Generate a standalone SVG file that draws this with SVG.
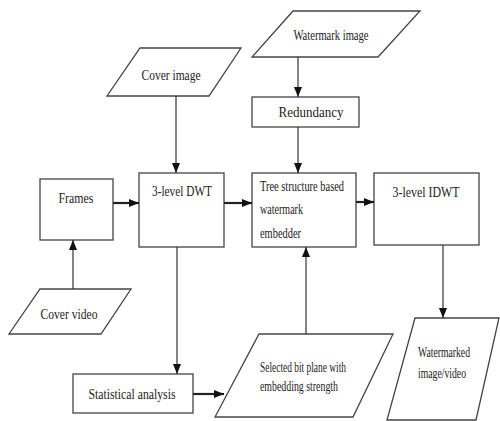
<svg xmlns="http://www.w3.org/2000/svg" width="500" height="421" viewBox="0 0 500 421">
<defs>
<style>
.shape{fill:#fff;stroke:#444;stroke-width:1.3}
.t{font-family:"Liberation Serif","Times New Roman",serif;font-size:15px;fill:#222}
.c{text-anchor:middle}
.ln{stroke:#333;stroke-width:1.2;fill:none}
.th{stroke:#222;stroke-width:2.2;fill:none}
</style>
<marker id="ah" markerUnits="userSpaceOnUse" markerWidth="10" markerHeight="10" viewBox="0 0 10 10" refX="10" refY="5" orient="auto">
<path d="M0,1 L10,5 L0,9 Z" fill="#111"/>
</marker>
</defs>
<rect width="500" height="421" fill="#fff"/>
<g id="cover-image"><polygon class="shape" points="140,48 241,48 209,96 107,96"/><text class="t c" x="171" y="80" textLength="59" lengthAdjust="spacingAndGlyphs">Cover image</text></g>
<g id="watermark-image"><polygon class="shape" points="293,11 420,11 378,57 252,57"/><text class="t c" x="331" y="40" textLength="75" lengthAdjust="spacingAndGlyphs">Watermark image</text></g>
<g id="redundancy"><rect class="shape" x="252" y="97" width="107" height="30"/><text class="t c" x="311" y="117" textLength="65" lengthAdjust="spacingAndGlyphs">Redundancy</text></g>
<g id="frames"><rect class="shape" x="40" y="179" width="73" height="61"/><text class="t c" x="76" y="203" textLength="35" lengthAdjust="spacingAndGlyphs">Frames</text></g>
<g id="dwt"><rect class="shape" x="139" y="173" width="85" height="74"/><text class="t c" x="182" y="196" textLength="60" lengthAdjust="spacingAndGlyphs">3-level DWT</text></g>
<g id="embedder"><rect class="shape" x="252" y="173" width="104" height="74"/><text class="t" x="260" y="191" textLength="84" lengthAdjust="spacingAndGlyphs">Tree structure based</text><text class="t" x="260" y="214" textLength="43" lengthAdjust="spacingAndGlyphs">watermark</text><text class="t" x="260" y="238" textLength="41" lengthAdjust="spacingAndGlyphs">embedder</text></g>
<g id="idwt"><rect class="shape" x="374" y="173" width="105" height="72"/><text class="t c" x="426" y="197" textLength="67" lengthAdjust="spacingAndGlyphs">3-level IDWT</text></g>
<g id="cover-video"><polygon class="shape" points="40,289 131,289 101,334 9,334"/><text class="t c" x="69" y="319" textLength="57" lengthAdjust="spacingAndGlyphs">Cover video</text></g>
<g id="statistical"><rect class="shape" x="73" y="374" width="120" height="39"/><text class="t c" x="132" y="399" textLength="87" lengthAdjust="spacingAndGlyphs">Statistical analysis</text></g>
<g id="selected"><polygon class="shape" points="259,334 393,334 353,417 215,417"/><text class="t" x="260" y="372" textLength="86" lengthAdjust="spacingAndGlyphs">Selected bit plane with</text><text class="t" x="260" y="391" textLength="78" lengthAdjust="spacingAndGlyphs">embedding strength</text></g>
<g id="watermarked"><polygon class="shape" points="415,318 499,318 476,420 387,420"/><text class="t" x="418" y="357" textLength="52" lengthAdjust="spacingAndGlyphs">Watermarked</text><text class="t" x="418" y="378" textLength="48" lengthAdjust="spacingAndGlyphs">image/video</text></g>
<g id="connectors">
<line class="ln" x1="176" y1="96" x2="176" y2="173" marker-end="url(#ah)"/>
<line class="ln" x1="298" y1="57" x2="298" y2="97" marker-end="url(#ah)"/>
<line class="ln" x1="298" y1="127" x2="298" y2="173" marker-end="url(#ah)"/>
<line class="th" x1="113" y1="203" x2="139" y2="203" marker-end="url(#ah)"/>
<line class="th" x1="224" y1="203" x2="252" y2="203" marker-end="url(#ah)"/>
<line class="th" x1="356" y1="202" x2="374" y2="202" marker-end="url(#ah)"/>
<line class="ln" x1="73" y1="289" x2="73" y2="240" marker-end="url(#ah)"/>
<line class="ln" x1="177" y1="247" x2="177" y2="374" marker-end="url(#ah)"/>
<line class="th" x1="193" y1="394" x2="224" y2="394" marker-end="url(#ah)"/>
<line class="ln" x1="306" y1="334" x2="306" y2="247" marker-end="url(#ah)"/>
<line class="ln" x1="443" y1="245" x2="443" y2="318" marker-end="url(#ah)"/>
</g>
</svg>
